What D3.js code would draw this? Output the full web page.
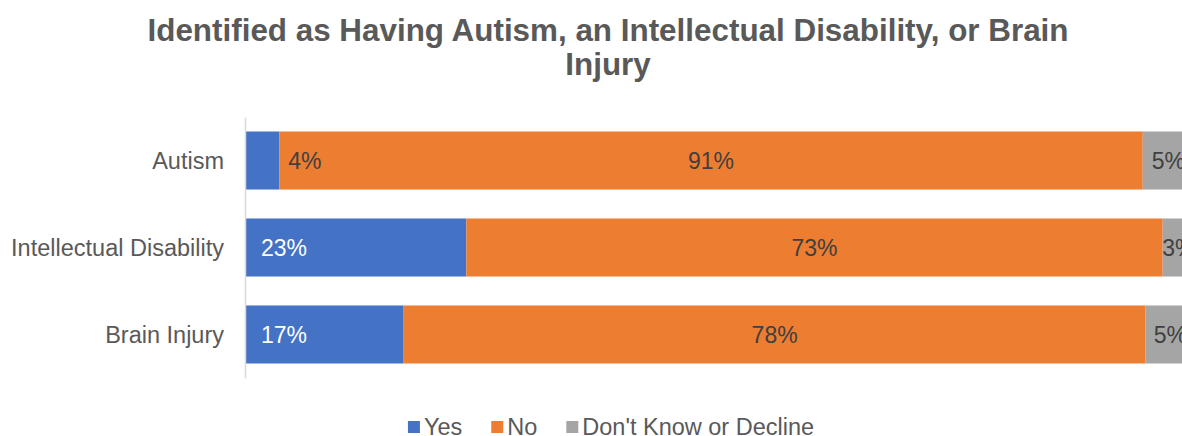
<!DOCTYPE html>
<html>
<head>
<meta charset="utf-8">
<script src="https://cdn.jsdelivr.net/npm/d3@7"></script>
<style>
  html, body { margin: 0; padding: 0; background: #fff; }
  svg { display: block; }
  text { font-family: "Liberation Sans", Arial, sans-serif; }
</style>
</head>
<body>
<svg id="chart" width="1182" height="436"></svg>
<script>
// ---- data ----
const titleLines = ["Identified as Having Autism, an Intellectual Disability, or Brain", "Injury"];
const categories = ["Autism", "Intellectual Disability", "Brain Injury"];
const seriesNames = ["Yes", "No", "Don't Know or Decline"];
const yesValues = [3.6, 23.3, 16.7];
const noValues = [90.9, 73.3, 78.1];
const dkValues = [5.4, 3.4, 5.2];
const seriesColors = ["#4472C4", "#ED7D31", "#A5A5A5"];

const svg = d3.select("#chart");
const W = 1182, H = 436;

// title
svg.append("g").selectAll("text").data(titleLines).join("text")
  .attr("x", 608).attr("y", (d, i) => 41 + i * 34)
  .attr("text-anchor", "middle")
  .attr("font-size", 31.4).attr("font-weight", "bold")
  .attr("fill", "#595959")
  .text(d => d);

const x = d3.scaleLinear().domain([0, 100]).range([245, 1195]);
const y = d3.scaleBand().domain(categories).range([117, 378])
  .paddingInner(0.333).paddingOuter(0.1667);

const rows = categories.map((c, i) => ({ cat: c, Yes: yesValues[i], No: noValues[i], DK: dkValues[i] }));
const keys = ["Yes", "No", "DK"];
const stacked = d3.stack().keys(keys)(rows);

svg.append("defs").append("clipPath").attr("id", "clip")
  .append("rect").attr("x", 0).attr("y", 0).attr("width", W).attr("height", H);

const plot = svg.append("g").attr("clip-path", "url(#clip)");

plot.selectAll("g.series").data(stacked).join("g")
  .attr("class", "series")
  .attr("fill", (d, i) => seriesColors[i])
  .selectAll("rect").data(d => d).join("rect")
  .attr("x", d => x(d[0]))
  .attr("width", d => x(d[1]) - x(d[0]))
  .attr("y", d => y(d.data.cat))
  .attr("height", y.bandwidth());

// axis (vertical line + category labels)
const yAxis = d3.axisLeft(y).tickSize(0).tickPadding(21);
const ag = svg.append("g").attr("transform", `translate(${x(0)},0)`).call(yAxis);
ag.select(".domain").attr("stroke", "#D9D9D9").attr("stroke-width", 1.5);
ag.selectAll(".tick text")
  .attr("font-size", 23.5).attr("fill", "#595959")
  .attr("font-family", "Liberation Sans, Arial, sans-serif")
  .attr("dy", "0.35em");

// data labels
const fmt = v => Math.round(v) + "%";
const labelG = svg.append("g").attr("font-size", 23);
stacked.forEach((s, si) => {
  s.forEach(d => {
    const x0 = x(d[0]), x1 = x(d[1]);
    const cy = y(d.data.cat) + y.bandwidth() / 2;
    const v = d[1] - d[0];
    let tx, anchor, fill;
    if (si === 0) {
      if (x1 - x0 > 60) { tx = x0 + 16; anchor = "start"; fill = "#FFFFFF"; }
      else { tx = x1 + 9; anchor = "start"; fill = "#404040"; }
    } else {
      tx = (x0 + x1) / 2; anchor = "middle"; fill = "#404040";
    }
    labelG.append("text")
      .attr("x", tx).attr("y", cy).attr("dy", "0.35em")
      .attr("text-anchor", anchor).attr("fill", fill)
      .text(fmt(v));
  });
});

// legend
const legend = svg.append("g");
const items = legend.selectAll("g").data(seriesNames).join("g");
items.append("rect").attr("width", 12).attr("height", 12).attr("y", 421)
  .attr("fill", (d, i) => seriesColors[i]);
items.append("text").attr("x", 16).attr("y", 435)
  .attr("font-size", 23.5).attr("fill", "#595959").text(d => d);
let cx = 0;
const gap = 29;
items.each(function () {
  const g = d3.select(this);
  const w = 16 + g.select("text").node().getComputedTextLength();
  g.attr("transform", `translate(${cx},0)`);
  cx += w + gap;
});
const totalW = cx - gap;
legend.attr("transform", `translate(${611 - totalW / 2},0)`);
</script>
</body>
</html>
